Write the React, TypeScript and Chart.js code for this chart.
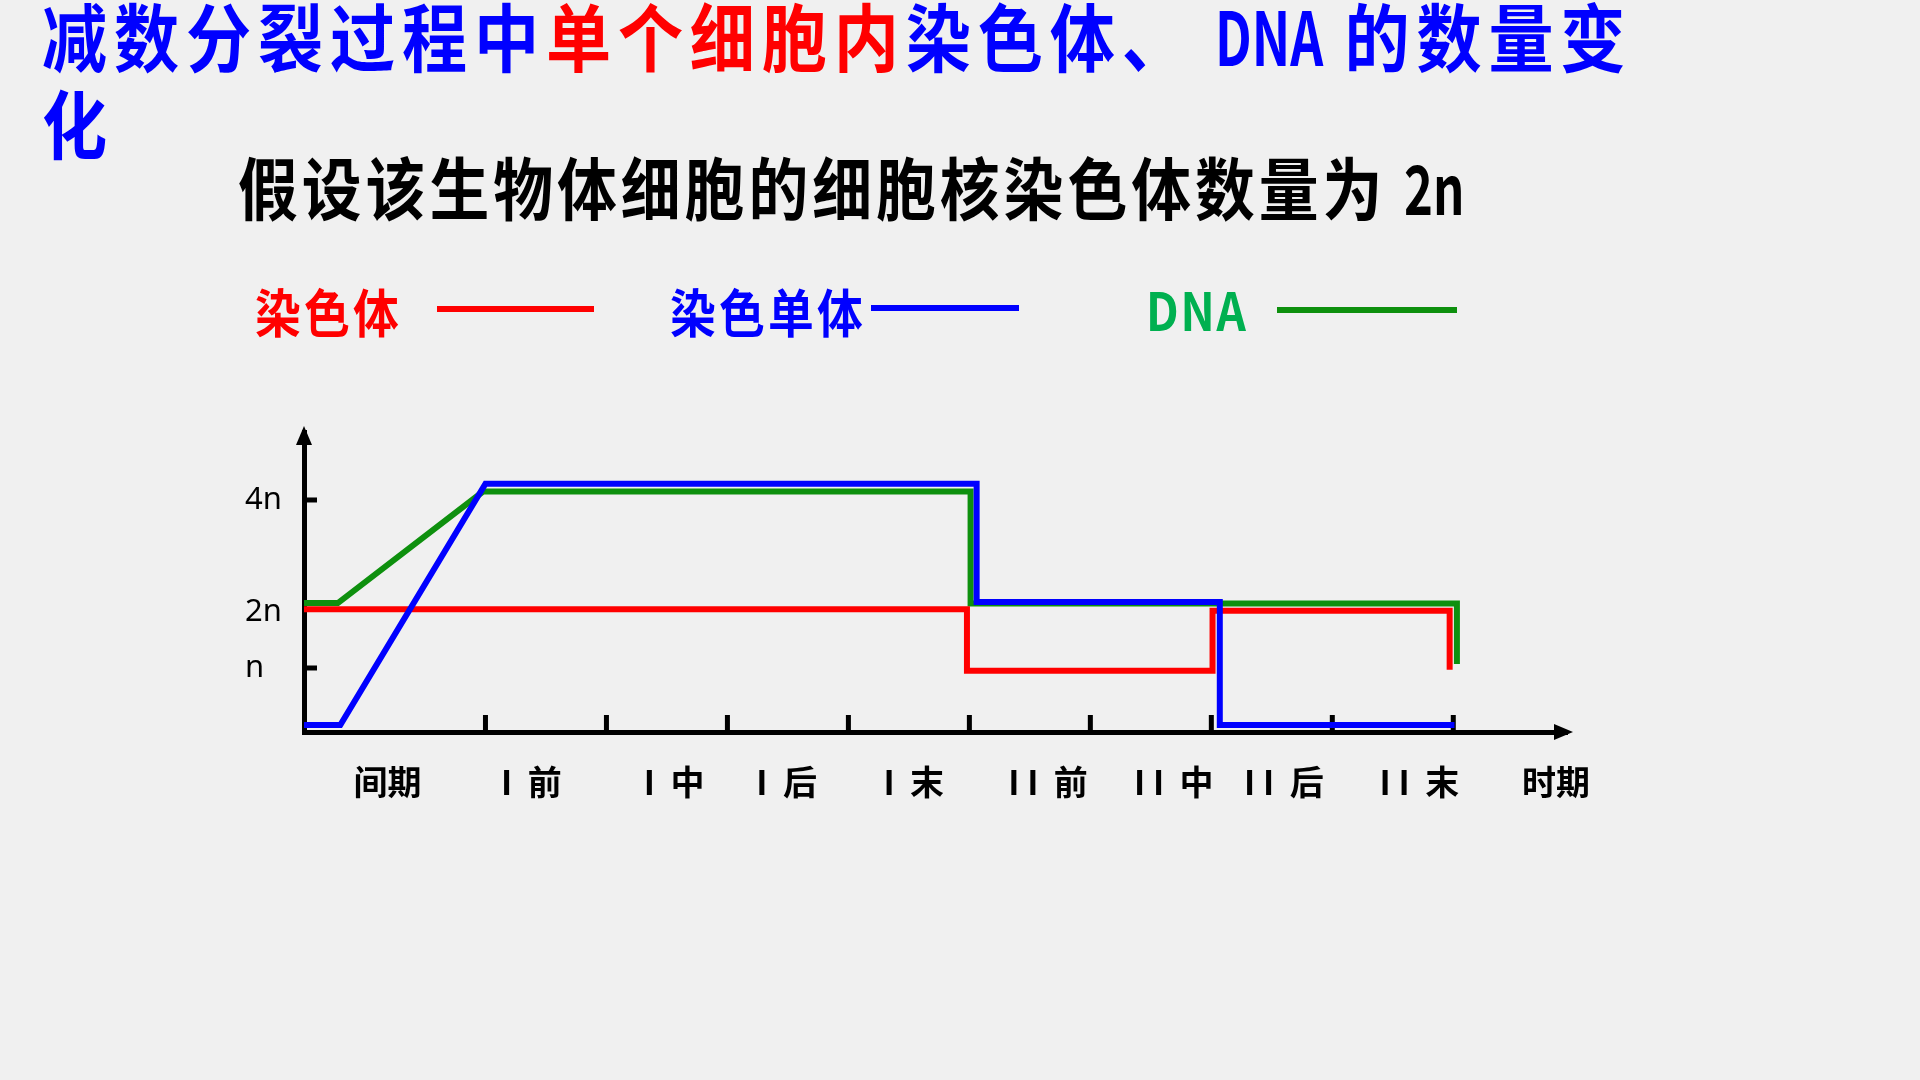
import React, { useEffect, useRef } from 'react';
import { Chart, registerables } from 'chart.js';

Chart.register(...registerables);

// ---- data ----
const periodLabels = ['间期', 'I  前', 'I  中', 'I  后', 'I  末', 'I I  前', 'I I  中', 'I I  后', 'I I  末', '时期'];
const periodLabelAt = [0.69, 1.88, 3.06, 3.99, 5.04, 6.15, 7.19, 8.1, 9.22, 10.35];
const phaseBoundaries = [1.5, 2.5, 3.5, 4.5, 5.5, 6.5, 7.5, 8.5, 9.5];

const countTicks = [1, 2, 4];
const countTickLabels = ['n', '2n', '4n'];
const countTickMarks = [1, 4];

// 染色体
const chromosomeTime = [0, 5.48, 5.48, 7.51, 7.51, 9.47, 9.47];
const chromosomeCount = [2.05, 2.05, 0.95, 0.95, 2.02, 2.02, 0.97];
// 染色单体
const chromatidTime = [0, 0.3, 1.5, 5.56, 5.56, 7.57, 7.57, 9.51];
const chromatidCount = [-0.02, -0.02, 4.29, 4.29, 2.18, 2.18, -0.02, -0.02];
// DNA
const dnaTime = [0, 0.28, 1.48, 5.51, 5.51, 9.53, 9.53];
const dnaCount = [2.16, 2.16, 4.15, 4.15, 2.15, 2.15, 1.07];

const RED = '#ff0000';
const BLUE = '#0000ff';
const GREEN = '#0e900e';

const axisDecorations = {
  id: 'axisDecorations',
  beforeDatasetsDraw(chart: any) {
    const { ctx, chartArea, scales } = chart;
    ctx.save();
    ctx.fillStyle = '#000';
    for (const v of phaseBoundaries) {
      const px = scales.x.getPixelForValue(v);
      ctx.fillRect(px - 2.5, chartArea.bottom - 17, 5, 17);
    }
    for (const v of countTickMarks) {
      const py = scales.y.getPixelForValue(v);
      ctx.fillRect(chartArea.left, py - 2.5, 13, 5);
    }
    ctx.restore();
  },
  afterDraw(chart: any) {
    const { ctx, chartArea } = chart;
    const { left, top, right, bottom } = chartArea;
    ctx.save();
    ctx.fillStyle = '#000';
    ctx.beginPath();
    ctx.moveTo(left, top - 6);
    ctx.lineTo(left - 8, top + 13);
    ctx.lineTo(left + 8, top + 13);
    ctx.closePath();
    ctx.fill();
    ctx.beginPath();
    ctx.moveTo(right + 6, bottom);
    ctx.lineTo(right - 13, bottom - 8);
    ctx.lineTo(right - 13, bottom + 8);
    ctx.closePath();
    ctx.fill();
    ctx.restore();
  },
};

const toPoints = (xs: number[], ys: number[]) => xs.map((x, i) => ({ x, y: ys[i] }));

const lineStyle = (color: string) => ({
  borderColor: color,
  backgroundColor: color,
  borderWidth: 6,
  pointRadius: 0,
  tension: 0,
  fill: false,
  borderJoinStyle: 'miter' as const,
  borderCapStyle: 'butt' as const,
  clip: false as any,
});

const CJK = '"Noto Sans CJK SC", "Noto Sans", sans-serif';

const block = (left: number, top: number, size: number, ls: number, lh: string): React.CSSProperties => ({
  position: 'absolute',
  left,
  top,
  fontFamily: CJK,
  fontWeight: 700,
  fontSize: size,
  lineHeight: lh,
  letterSpacing: ls,
  whiteSpace: 'nowrap',
  transform: 'scaleX(0.88)',
  transformOrigin: '0 0',
});

const squeeze = (boxWidth: number, scale: number, text: string) => (
  <span style={{ display: 'inline-block', width: boxWidth, whiteSpace: 'nowrap' }}>
    <span style={{ display: 'inline-block', transform: `scaleX(${scale})`, transformOrigin: '0 0', letterSpacing: 0 }}>
      {text}
    </span>
  </span>
);

export default function App() {
  const canvasRef = useRef<HTMLCanvasElement | null>(null);

  useEffect(() => {
    const canvas = canvasRef.current;
    if (!canvas) return;
    const chart = new Chart(canvas, {
      type: 'line',
      data: {
        datasets: [
          { label: '染色单体', data: toPoints(chromatidTime, chromatidCount), ...lineStyle(BLUE) },
          { label: '染色体', data: toPoints(chromosomeTime, chromosomeCount), ...lineStyle(RED) },
          { label: 'DNA', data: toPoints(dnaTime, dnaCount), ...lineStyle(GREEN) },
        ] as any,
      },
      options: {
        responsive: false,
        animation: false,
        devicePixelRatio: 1,
        events: [],
        layout: { padding: { left: 245, top: 432, right: 353, bottom: 248 } },
        plugins: { legend: { display: false }, tooltip: { enabled: false } },
        scales: {
          x: {
            type: 'linear',
            min: 0,
            max: 10.44,
            bounds: 'data',
            grid: { display: false, drawTicks: false },
            border: { display: true, color: '#000', width: 5 },
            afterBuildTicks: (axis: any) => {
              axis.ticks = periodLabelAt.map((v) => ({ value: v }));
            },
            afterFit: (axis: any) => {
              axis.height = 100;
            },
            ticks: {
              autoSkip: false,
              maxRotation: 0,
              minRotation: 0,
              padding: 30,
              color: '#000',
              font: { family: CJK, size: 34, weight: 'bold' },
              callback: (_v: any, i: number) => periodLabels[i],
            },
          },
          y: {
            type: 'linear',
            min: -0.143,
            max: 5.214,
            bounds: 'data',
            grid: { display: false, drawTicks: false },
            border: { display: true, color: '#000', width: 5 },
            afterBuildTicks: (axis: any) => {
              axis.ticks = countTicks.map((v) => ({ value: v }));
            },
            afterFit: (axis: any) => {
              axis.width = 59;
            },
            ticks: {
              crossAlign: 'far',
              color: '#000',
              font: { family: '"Noto Sans", sans-serif', size: 31 },
              callback: (_v: any, i: number) => countTickLabels[i],
            },
          },
        },
      } as any,
      plugins: [axisDecorations],
    });
    return () => chart.destroy();
  }, []);

  return (
    <div
      style={{
        position: 'fixed',
        left: 0,
        top: 0,
        width: 1920,
        height: 1080,
        overflow: 'hidden',
        background: '#f0f0f0',
      }}
    >
      <canvas
        ref={canvasRef}
        width={1920}
        height={1080}
        style={{ position: 'absolute', left: 0, top: 0, width: 1920, height: 1080 }}
      />
      <div style={{ ...block(42, -10, 74, 7.8, '87px'), color: BLUE }}>
        减数分裂过程中<span style={{ color: RED }}>单个细胞内</span>染色体、 {squeeze(122, 0.79, 'DNA')} 的数量变
        <br />化
      </div>
      <div style={{ ...block(238, 152, 68, 4.5, '1'), color: '#000' }}>
        假设该生物体细胞的细胞核染色体数量为 {squeeze(70, 0.82, '2n')}
      </div>
      <div style={{ ...block(255, 284.5, 52, 3.7, '1'), color: RED }}>染色体</div>
      <div style={{ ...block(670, 284.5, 52, 3.7, '1'), color: BLUE }}>染色单体</div>
      <div style={{ ...block(1146, 283, 52, 2, '1'), color: '#00b050' }}>DNA</div>
      <div style={{ position: 'absolute', left: 437, top: 305.5, width: 157, height: 6, background: RED }} />
      <div style={{ position: 'absolute', left: 871, top: 305, width: 148, height: 6, background: BLUE }} />
      <div style={{ position: 'absolute', left: 1277, top: 306.5, width: 180, height: 6, background: GREEN }} />
    </div>
  );
}
